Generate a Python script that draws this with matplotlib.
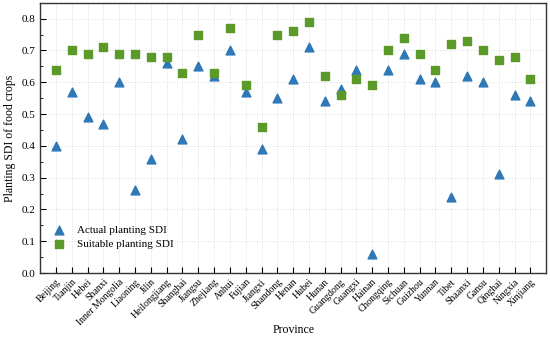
import matplotlib
matplotlib.use("Agg")
import matplotlib.pyplot as plt
from matplotlib.ticker import MultipleLocator

plt.rcParams['font.family'] = ['Liberation Serif', 'DejaVu Serif']

provinces = ["Beijing", "Tianjin", "Hebei", "Shanxi", "Inner Mongolia", "Liaoning", "Jilin",
             "Heilongjiang", "Shanghai", "Jiangsu", "Zhejiang", "Anhui", "Fujian", "Jiangxi",
             "Shandong", "Henan", "Hubei", "Hunan", "Guangdong", "Guangxi", "Hainan",
             "Chongqing", "Sichuan", "Guizhou", "Yunnan", "Tibet", "Shaanxi", "Gansu",
             "Qinghai", "Ningxia", "Xinjiang"]
actual = [0.40, 0.57, 0.49, 0.47, 0.60, 0.26, 0.36, 0.66, 0.42, 0.65, 0.62, 0.70, 0.57, 0.39,
          0.55, 0.61, 0.71, 0.54, 0.58, 0.64, 0.06, 0.64, 0.69, 0.61, 0.60, 0.24, 0.62, 0.60,
          0.31, 0.56, 0.54]
suitable = [0.64, 0.70, 0.69, 0.71, 0.69, 0.69, 0.68, 0.68, 0.63, 0.75, 0.63, 0.77, 0.59, 0.46,
            0.75, 0.76, 0.79, 0.62, 0.56, 0.61, 0.59, 0.70, 0.74, 0.69, 0.64, 0.72, 0.73, 0.70,
            0.67, 0.68, 0.61]

fig = plt.figure(figsize=(5.5, 3.38), dpi=100)
ax = fig.add_axes([0.073, 0.192, 0.92, 0.80])

x = range(len(provinces))
ax.scatter(x, actual, marker='^', s=40, color='#2e78b7', label='Actual planting SDI', zorder=3)
ax.scatter(x, suitable, marker='s', s=32, color='#5b9a29', label='Suitable planting SDI', zorder=4)

ax.set_xlim(-1, len(provinces))
ax.set_ylim(0, 0.85)
ax.set_xticks(list(x))
ax.set_xticklabels(provinces, rotation=45, ha='right', rotation_mode='anchor', fontsize=7)
ax.yaxis.set_major_locator(MultipleLocator(0.1))
ax.yaxis.set_minor_locator(MultipleLocator(0.05))
ax.tick_params(axis='both', direction='in', labelsize=8, length=4, width=0.8)
ax.tick_params(axis='x', labelsize=7, pad=3)
ax.tick_params(axis='y', which='minor', direction='in', length=2.5)
ax.grid(True, color='#dddddd', linestyle=':', linewidth=0.7)
ax.set_axisbelow(True)
for s in ax.spines.values():
    s.set_linewidth(1.0)
    s.set_color('#333333')

ax.set_ylabel('Planting SDI of food crops', fontsize=8.5)
ax.set_xlabel('Province', fontsize=8.5)
ax.xaxis.set_label_coords(0.5, -0.19)
ax.legend(loc='lower left', bbox_to_anchor=(0.0, 0.06), frameon=False, fontsize=8,
          handletextpad=0.6, borderpad=0.2, labelspacing=0.4)

fig.savefig('out.png', dpi=100)
